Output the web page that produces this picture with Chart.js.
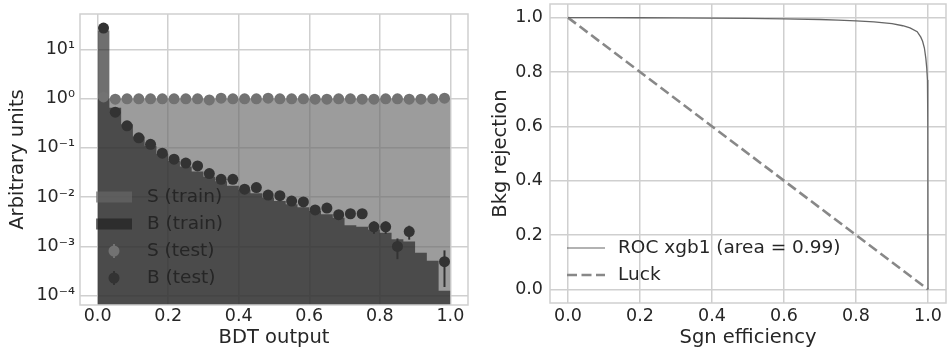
<!DOCTYPE html>
<html>
<head>
<meta charset="utf-8">
<script src="https://cdn.jsdelivr.net/npm/chart.js@4.4.1/dist/chart.umd.min.js"></script>
<style>
  body { margin: 0; background: #fff; }
  #left { position: absolute; left: 0; top: 0; }
  #right { position: absolute; left: 475px; top: 0; }
</style>
</head>
<body>
<canvas id="left" width="475" height="352"></canvas>
<canvas id="right" width="472" height="352"></canvas>
<script>
// ---- left panel: BDT output histograms ----
const binEdges = [0, 0.0333, 0.0667, 0.1, 0.1333, 0.1667, 0.2, 0.2333, 0.2667, 0.3,
  0.3333, 0.3667, 0.4, 0.4333, 0.4667, 0.5, 0.5333, 0.5667, 0.6, 0.6333,
  0.6667, 0.7, 0.7333, 0.7667, 0.8, 0.8333, 0.8667, 0.9, 0.9333, 0.9667, 1.0];

const sTrain = [1.0, 1.0, 1.0, 1.0, 1.0, 1.0, 1.0, 1.0, 1.0, 1.0,
  1.0, 1.0, 1.0, 1.0, 1.0, 1.0, 1.0, 1.0, 1.0, 1.0,
  1.0, 1.0, 1.0, 1.0, 1.0, 1.0, 1.0, 1.0, 1.0, 1.0];
const bTrain = [24, 0.65, 0.3, 0.17, 0.11, 0.075, 0.055, 0.042, 0.033, 0.026,
  0.021, 0.017, 0.014, 0.012, 0.0098, 0.0083, 0.0072, 0.0062, 0.0052, 0.0045,
  0.0038, 0.0027, 0.0025, 0.0022, 0.0019, 0.0014, 0.00126, 0.00074, 0.00051, 0.000126];

const sTest = [1.08, 0.97, 0.99, 0.99, 0.99, 0.99, 0.99, 0.99, 0.99, 0.94,
  1.02, 0.99, 0.99, 0.99, 1.02, 0.99, 0.99, 0.99, 0.97, 0.97,
  0.99, 0.99, 0.97, 0.97, 0.99, 0.99, 0.97, 0.97, 0.99, 1.02];
const sTestErr = [0.02, 0.02, 0.02, 0.02, 0.02, 0.02, 0.02, 0.02, 0.02, 0.02,
  0.02, 0.02, 0.02, 0.02, 0.02, 0.02, 0.02, 0.02, 0.02, 0.02,
  0.02, 0.02, 0.02, 0.02, 0.02, 0.02, 0.02, 0.02, 0.02, 0.02];
const bTest = [27, 0.53, 0.28, 0.16, 0.118, 0.078, 0.059, 0.049, 0.043, 0.030,
  0.023, 0.023, 0.0145, 0.0156, 0.011, 0.0107, 0.0083, 0.0080, 0.0055, 0.0060,
  0.0044, 0.0046, 0.0046, 0.0025, 0.0025, 0.0010, 0.0020, null, null, 0.00049];
const bTestErr = [0.073, 0.010, 0.0075, 0.0057, 0.0049, 0.0039, 0.0034, 0.0031, 0.0029, 0.0024,
  0.0021, 0.0021, 0.0017, 0.0018, 0.0015, 0.0015, 0.0013, 0.0013, 0.0010, 0.0011,
  0.00094, 0.00096, 0.00096, 0.0007, 0.0007, 0.00045, 0.00063, null, null, 0.00034];

const leftXTicks = [0, 0.2, 0.4, 0.6, 0.8, 1.0];
const leftXTickLabels = ["0.0", "0.2", "0.4", "0.6", "0.8", "1.0"];
const leftYTicks = [1e-4, 1e-3, 1e-2, 1e-1, 1, 10];
const leftYTickLabels = ["10⁻⁴", "10⁻³", "10⁻²", "10⁻¹", "10⁰", "10¹"];

// ---- right panel: ROC ----
const rocX = [0, 0.1, 0.2, 0.3, 0.4, 0.5, 0.6, 0.7, 0.75, 0.8, 0.85, 0.9, 0.93, 0.95,
  0.97, 0.98, 0.985, 0.99, 0.994, 0.9965, 0.9985, 0.9995, 1.0];
const rocY = [1.0, 0.9998, 0.9995, 0.999, 0.998, 0.997, 0.9955, 0.993, 0.991, 0.988, 0.984, 0.978, 0.970, 0.962,
  0.948, 0.928, 0.913, 0.888, 0.850, 0.815, 0.77, 0.6, 0.0];
const luckX = [0, 1];
const luckY = [1, 0];
const rightTicks = [0, 0.2, 0.4, 0.6, 0.8, 1.0];
const rightTickLabels = ["0.0", "0.2", "0.4", "0.6", "0.8", "1.0"];

const TEXT = "#262626";
const GRID = "#cfcfcf";
const S_FILL = "rgba(105,105,105,0.66)";
const B_FILL = "rgba(30,30,30,0.64)";
const S_DOT = "#727272";
const B_DOT = "#333333";

Chart.defaults.font.family = "'DejaVu Sans', sans-serif";
Chart.defaults.color = TEXT;
Chart.defaults.animation = false;

function stepData(vals) {
  const pts = vals.map((v, i) => ({ x: binEdges[i], y: v }));
  pts.push({ x: binEdges[binEdges.length - 1], y: vals[vals.length - 1] });
  return pts;
}
function centerData(vals) {
  return vals.map((v, i) => ({ x: (binEdges[i] + binEdges[i + 1]) / 2, y: v }));
}
function xyData(xs, ys) {
  return xs.map((x, i) => ({ x: x, y: ys[i] }));
}

const frame = {
  id: "frame",
  afterDatasetsDraw(chart) {
    const a = chart.chartArea, ctx = chart.ctx;
    ctx.save();
    ctx.strokeStyle = GRID;
    ctx.lineWidth = 1.5;
    ctx.strokeRect(a.left, a.top, a.right - a.left, a.bottom - a.top);
    ctx.restore();
  }
};

function drawErr(chart, vals, errs, color) {
  const ctx = chart.ctx, xs = chart.scales.x, ys = chart.scales.y, a = chart.chartArea;
  ctx.save();
  ctx.beginPath();
  ctx.rect(a.left, a.top, a.right - a.left, a.bottom - a.top);
  ctx.clip();
  ctx.strokeStyle = color;
  ctx.lineWidth = 2;
  vals.forEach((v, i) => {
    if (v == null || errs[i] == null) return;
    const px = xs.getPixelForValue((binEdges[i] + binEdges[i + 1]) / 2);
    const lo = v - errs[i];
    const yTop = ys.getPixelForValue(v + errs[i]);
    const yBot = lo > 0 ? ys.getPixelForValue(lo) : a.bottom;
    ctx.beginPath();
    ctx.moveTo(px, yTop);
    ctx.lineTo(px, yBot);
    ctx.stroke();
  });
  ctx.restore();
}

const errorBars = {
  id: "errorBars",
  afterDatasetDraw(chart, args) {
    if (args.index === 1) drawErr(chart, sTest, sTestErr, S_DOT);
    if (args.index === 2) drawErr(chart, bTest, bTestErr, B_DOT);
  }
};

const leftLegend = {
  id: "leftLegend",
  afterDraw(chart) {
    const ctx = chart.ctx, a = chart.chartArea;
    const x0 = a.left + 16, x1 = a.left + 52, tx = a.left + 67;
    const rows = [a.top + 183, a.top + 210, a.top + 237, a.top + 264];
    ctx.save();
    ctx.fillStyle = S_FILL;
    ctx.fillRect(x0, rows[0] - 5.5, x1 - x0, 11);
    ctx.fillStyle = B_FILL;
    ctx.fillRect(x0, rows[1] - 5.5, x1 - x0, 11);
    [[rows[2], S_DOT], [rows[3], B_DOT]].forEach(([y, c]) => {
      const cx = (x0 + x1) / 2;
      ctx.strokeStyle = c;
      ctx.lineWidth = 2;
      ctx.beginPath(); ctx.moveTo(cx, y - 7); ctx.lineTo(cx, y + 7); ctx.stroke();
      ctx.fillStyle = c;
      ctx.beginPath(); ctx.arc(cx, y, 5.5, 0, Math.PI * 2); ctx.fill();
    });
    ctx.fillStyle = TEXT;
    ctx.font = "18.5px 'DejaVu Sans'";
    ctx.textBaseline = "middle";
    ["S (train)", "B (train)", "S (test)", "B (test)"].forEach((t, i) => ctx.fillText(t, tx, rows[i]));
    ctx.restore();
  }
};

const rightLegend = {
  id: "rightLegend",
  afterDraw(chart) {
    const ctx = chart.ctx, a = chart.chartArea;
    const x0 = a.left + 17, x1 = a.left + 55, tx = a.left + 68;
    const r0 = a.top + 244, r1 = a.top + 271;
    ctx.save();
    ctx.strokeStyle = "#666666";
    ctx.lineWidth = 1.2;
    ctx.beginPath(); ctx.moveTo(x0, r0); ctx.lineTo(x1, r0); ctx.stroke();
    ctx.strokeStyle = "#888888";
    ctx.lineWidth = 2.6;
    ctx.setLineDash([10, 4.5]);
    ctx.beginPath(); ctx.moveTo(x0, r1); ctx.lineTo(x1, r1); ctx.stroke();
    ctx.setLineDash([]);
    ctx.fillStyle = TEXT;
    ctx.font = "18.5px 'DejaVu Sans'";
    ctx.textBaseline = "middle";
    ctx.fillText("ROC xgb1 (area = 0.99)", tx, r0);
    ctx.fillText("Luck", tx, r1);
    ctx.restore();
  }
};

function fixY(width) {
  return (s) => { s.width = width; s.paddingTop = 0; s.paddingBottom = 0; };
}
function fixX(height) {
  return (s) => { s.height = height; s.paddingLeft = 0; s.paddingRight = 0; };
}

new Chart(document.getElementById("left"), {
  type: "line",
  data: {
    datasets: [
      { label: "S (train)", data: stepData(sTrain), stepped: "before", fill: "start",
        backgroundColor: S_FILL, borderWidth: 0, pointRadius: 0, order: 4 },
      { label: "B (train)", data: stepData(bTrain), stepped: "before", fill: "start",
        backgroundColor: B_FILL, borderWidth: 0, pointRadius: 0, order: 3 },
      { label: "S (test)", data: centerData(sTest), showLine: false,
        pointRadius: 5.5, pointBorderWidth: 0, pointBackgroundColor: S_DOT, order: 2 },
      { label: "B (test)", data: centerData(bTest), showLine: false,
        pointRadius: 5.5, pointBorderWidth: 0, pointBackgroundColor: B_DOT, order: 1 }
    ]
  },
  options: {
    responsive: false,
    layout: { padding: { top: 14, right: 7, left: 0, bottom: 0 } },
    plugins: { legend: { display: false }, tooltip: { enabled: false } },
    scales: {
      x: {
        type: "linear", min: -0.05, max: 1.05,
        afterBuildTicks: (s) => { s.ticks = leftXTicks.map(v => ({ value: v })); },
        afterFit: fixX(47),
        ticks: { autoSkip: false, maxRotation: 0, padding: 1, font: { size: 17.5 },
          callback: (v, i) => leftXTickLabels[i] },
        grid: { color: GRID, lineWidth: 1.5, drawTicks: false },
        border: { display: false },
        title: { display: true, text: "BDT output", font: { size: 19.5 }, padding: { top: 0, bottom: 2 } }
      },
      y: {
        type: "logarithmic", min: 6.47e-5, max: 52,
        afterBuildTicks: (s) => { s.ticks = leftYTicks.map(v => ({ value: v })); },
        afterFit: fixY(80),
        ticks: { autoSkip: false, padding: 5, font: { size: 17.5 },
          callback: (v, i) => leftYTickLabels[i] },
        grid: { color: GRID, lineWidth: 1.5, drawTicks: false },
        border: { display: false },
        title: { display: true, text: "Arbitrary units", font: { size: 19.5 }, padding: { top: 6, bottom: 0 } }
      }
    }
  },
  plugins: [errorBars, frame, leftLegend]
});

new Chart(document.getElementById("right"), {
  type: "line",
  data: {
    datasets: [
      { label: "ROC xgb1 (area = 0.99)", data: xyData(rocX, rocY), borderColor: "#666666",
        borderWidth: 1.3, pointRadius: 0, fill: false, tension: 0 },
      { label: "Luck", data: xyData(luckX, luckY), borderColor: "#888888",
        borderWidth: 2.6, borderDash: [10, 4.5], pointRadius: 0, fill: false }
    ]
  },
  options: {
    responsive: false,
    layout: { padding: { top: 4, right: 1, left: 0, bottom: 0 } },
    plugins: { legend: { display: false }, tooltip: { enabled: false } },
    scales: {
      x: {
        type: "linear", min: -0.05, max: 1.05,
        afterBuildTicks: (s) => { s.ticks = rightTicks.map(v => ({ value: v })); },
        afterFit: fixX(49),
        ticks: { autoSkip: false, maxRotation: 0, padding: 3, font: { size: 17.5 },
          callback: (v, i) => rightTickLabels[i] },
        grid: { color: GRID, lineWidth: 1.5, drawTicks: false },
        border: { display: false },
        title: { display: true, text: "Sgn efficiency", font: { size: 19.5 }, padding: { top: 0, bottom: 2 } }
      },
      y: {
        type: "linear", min: -0.05, max: 1.05,
        afterBuildTicks: (s) => { s.ticks = rightTicks.map(v => ({ value: v })); },
        afterFit: fixY(75),
        ticks: { autoSkip: false, padding: 7, font: { size: 17.5 },
          callback: (v, i) => rightTickLabels[i] },
        grid: { color: GRID, lineWidth: 1.5, drawTicks: false },
        border: { display: false },
        title: { display: true, text: "Bkg rejection", font: { size: 19.5 }, padding: { top: 14, bottom: 0 } }
      }
    }
  },
  plugins: [frame, rightLegend]
});
</script>
</body>
</html>
